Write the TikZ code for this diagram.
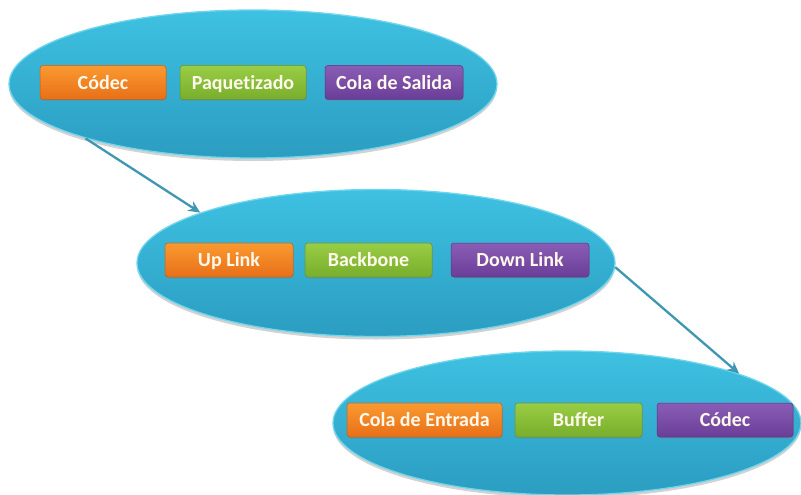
\documentclass[tikz,border=0pt]{standalone}
\usepackage{fontspec}
\setmainfont{Carlito}[Ligatures=NoCommon]
\usetikzlibrary{shapes.geometric,shadows,arrows.meta}

\definecolor{ovaltop}{HTML}{3EC1E2}
\definecolor{ovalbot}{HTML}{2B9DC1}
\definecolor{ovalrim}{HTML}{6FD6EE}
\definecolor{orangetop}{HTML}{FA9A30}
\definecolor{orangebot}{HTML}{E86F18}
\definecolor{greentop}{HTML}{9ACD45}
\definecolor{greenbot}{HTML}{78AE2C}
\definecolor{purpletop}{HTML}{8A5DB5}
\definecolor{purplebot}{HTML}{6A3E98}
\definecolor{flowc}{HTML}{3F97B3}
\definecolor{labelc}{HTML}{FFF8EC}

\begin{document}
\begin{tikzpicture}[x=1pt,y=-1pt,
  oval/.style={ellipse, inner sep=0pt, top color=ovaltop, bottom color=ovalbot,
    draw=ovalrim, line width=1.3pt,
    drop shadow={shadow xshift=0pt, shadow yshift=-3pt, opacity=0.35}},
  tag/.style={rounded corners=3pt, minimum height=34pt, inner sep=0pt,
    text=labelc, font=\bfseries\fontsize{20}{24}\selectfont,
    text height=13pt, text depth=0pt,
    top color=#1top, bottom color=#1bot, draw=#1bot!85!black, line width=0.5pt,
    drop shadow={shadow xshift=0.8pt, shadow yshift=-1.5pt, opacity=0.35}},
  flow/.style={draw=flowc, line width=2.3pt,
    -{Stealth[length=12pt,width=11pt,inset=4pt]}}]

\useasboundingbox[fill=white] (0,0) rectangle (801,495);

% three stages
\node[oval, minimum width=488pt, minimum height=148pt] (e1) at (253,84) {};
\node[oval, minimum width=478pt, minimum height=147pt] (e2) at (376,263) {};
\node[oval, minimum width=468pt, minimum height=144pt] (e3) at (567,423) {};

% links between stages
\draw[flow] (e1.198) -- (e2.164);
\draw[flow] (e2.-1) -- (e3.16);

% sender
\node[tag=orange, minimum width=126pt] (s1) at (103,82.5) {Códec};
\node[tag=green,  minimum width=126pt] (s2) at (243,82.5) {Paquetizado};
\node[tag=purple, minimum width=138pt] (s3) at (394,82.5) {Cola de Salida};

% network
\node[tag=orange, minimum width=128pt] (n1) at (229,260) {Up Link};
\node[tag=green,  minimum width=127pt] (n2) at (368.5,260) {Backbone};
\node[tag=purple, minimum width=138pt] (n3) at (520,260) {Down Link};

% receiver
\node[tag=orange, minimum width=155pt] (r1) at (424.5,420) {Cola de Entrada};
\node[tag=green,  minimum width=127pt] (r2) at (578.5,420) {Buffer};
\node[tag=purple, minimum width=136pt] (r3) at (725,420) {Códec};
\end{tikzpicture}
\end{document}
